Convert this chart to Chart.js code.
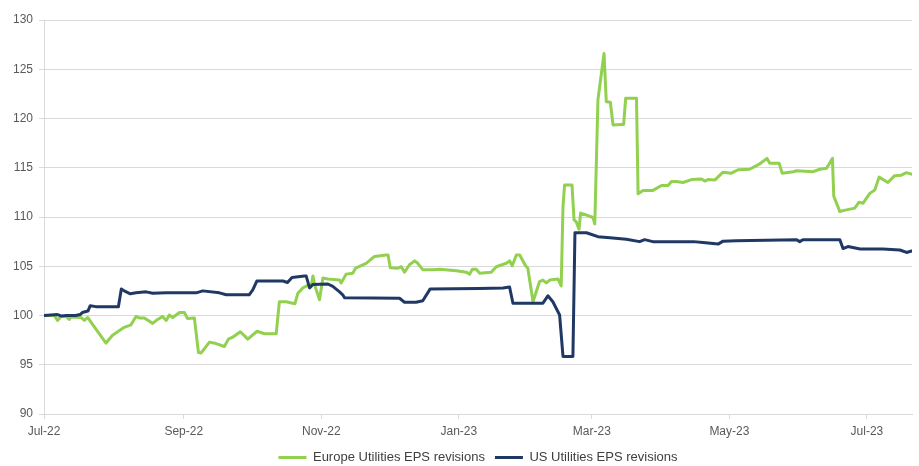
<!DOCTYPE html>
<html>
<head>
<meta charset="utf-8">
<script src="https://cdn.jsdelivr.net/npm/chart.js@4.4.0/dist/chart.umd.min.js"></script>
<style>
  body { margin: 0; background: #ffffff; }
  #wrap { width: 919px; height: 466px; position: relative; }
</style>
</head>
<body>
<div id="wrap"><canvas id="epsChart"></canvas></div>
<script>
// x values are days since 1 Jul 2022
const tickDays = [0, 62, 123, 184, 243, 304, 365];
const tickLabels = ['Jul-22', 'Sep-22', 'Nov-22', 'Jan-23', 'Mar-23', 'May-23', 'Jul-23'];

const euDays = [0, 4.6, 6, 7.5, 9.8, 11.2, 12, 16.4, 17.9, 19.4, 20.9, 27.5, 30.4, 35.6, 38.6, 40.8, 42.3, 44.5,
  48.2, 50.4, 52.6, 54.2, 55.6, 57.1, 60.1, 62.3, 63.6, 66.7, 68.5, 69.7, 73.4, 76.3, 80, 81.8, 83.7, 87.1,
  90.4, 94.5, 97.8, 103, 104.4, 107.4, 111.3, 112.6, 114.8, 117, 118.5, 119.3, 120.2, 122.2, 123.7, 125.9,
  131.1, 131.8, 134, 137, 138.2, 142.9, 146.6, 151.8, 152.6, 153.6, 157, 158.5, 159.9, 162.1, 164.4, 165.8,
  168, 172.5, 175.5, 182.9, 187.3, 188.8, 190, 191.7, 193.2, 198.4, 200.6, 205.1, 206.5, 207.7, 209.5, 211,
  213.6, 214.6, 216.9, 219.8, 221.3, 222.8, 224.3, 228, 229.4, 230.2, 230.9, 234.2, 235.1, 236.1, 237.3, 238,
  240.6, 243.5, 244.3, 245.7, 248.4, 249.4, 251.2, 252.4, 256.1, 257.1, 258, 262.8, 263.5, 265.7, 270.1,
  273.9, 276.8, 278.3, 280.5, 283.4, 287.2, 291.6, 293.1, 294.5, 297.5, 301.2, 304.9, 307.9, 313, 317.5,
  320.7, 321.9, 326.1, 327.4, 332.3, 333.8, 341.1, 344.1, 347.1, 349.7, 350.3, 353, 354.4, 359.6, 361.5,
  363.3, 366.3, 368.5, 370.4, 374.3, 377.3, 380.3, 382.5, 384.8];
const euValues = [100, 100, 99.5, 99.9, 99.9, 99.6, 99.85, 99.8, 99.5, 99.8, 99.3, 97.2, 98, 98.8, 99.05, 99.9, 99.75, 99.75,
  99.2, 99.6, 99.9, 99.5, 100.05, 99.8, 100.3, 100.3, 99.7, 99.75, 96.25, 96.2, 97.3, 97.15, 96.85, 97.6, 97.8, 98.35,
  97.6, 98.4, 98.15, 98.15, 101.4, 101.4, 101.2, 102.25, 102.8, 103.05, 103, 104, 103, 101.6, 103.8, 103.7,
  103.6, 103.3, 104.2, 104.3, 104.8, 105.3, 106, 106.15, 106.15, 104.85, 104.8, 104.95, 104.4, 105.15, 105.55, 105.3,
  104.65, 104.65, 104.7, 104.55, 104.4, 104.2, 104.7, 104.7, 104.3, 104.4, 104.95, 105.3, 105.55, 105.05, 106.15, 106.15,
  105.05, 104.8, 101.4, 103.45, 103.6, 103.3, 103.6, 103.7, 103, 111.05, 113.25, 113.25, 109.7, 109.5, 108.75, 110.4,
  110.2, 109.95, 109.3, 121.9, 126.6, 121.7, 121.65, 119.35, 119.4, 119.4, 122.05, 122.05, 112.35, 112.7, 112.7,
  113.2, 113.2, 113.6, 113.6, 113.5, 113.8, 113.85, 113.65, 113.8, 113.75, 114.55, 114.45, 114.8, 114.85, 115.4,
  115.95, 115.45, 115.45, 114.45, 114.6, 114.7, 114.6, 114.85, 114.95, 115.95, 112.1, 110.55, 110.65, 110.9, 111.5,
  111.4, 112.4, 112.75, 114.05, 113.5, 114.2, 114.25, 114.5, 114.35];

const usDays = [0, 6, 7.5, 10, 14, 16, 17, 19.5, 20.5, 23, 33, 34.3, 35.6, 38.3, 40.8, 45.3, 48.2, 54.2, 67.5, 70.4,
  77.8, 80.8, 91, 92.6, 94.4, 106, 108, 110, 115.5, 116.3, 117.8, 119.2, 125.9, 128.1, 131.1, 132.5, 133.3,
  157.7, 159.9, 165, 168, 171.3, 193, 203.6, 206.5, 208, 221.3, 223.5, 225.7, 228.7, 230.2, 234.6, 235.5,
  240.6, 245.7, 251, 258.3, 264.2, 266.4, 270, 288, 292.3, 299, 301.2, 307, 333.8, 335.2, 336.6, 353, 354.4,
  356.6, 362, 372, 379.6, 382.6, 384.8];
const usValues = [100, 100.1, 99.95, 100, 100, 100.1, 100.3, 100.45, 101, 100.9, 100.9, 102.7, 102.5, 102.2, 102.3, 102.4, 102.25, 102.3, 102.3, 102.5,
  102.3, 102.1, 102.1, 102.6, 103.5, 103.5, 103.35, 103.85, 104, 104, 102.8, 103.15, 103.2, 102.95, 102.4, 102.1, 101.8,
  101.75, 101.35, 101.35, 101.5, 102.7, 102.75, 102.8, 102.9, 101.25, 101.25, 102, 101.4, 100.05, 95.85, 95.85, 108.4,
  108.4, 108, 107.9, 107.75, 107.5, 107.7, 107.5, 107.5, 107.4, 107.25, 107.55, 107.6, 107.7, 107.5, 107.7, 107.7, 106.8,
  107, 106.75, 106.75, 106.65, 106.4, 106.55];

const toPoints = (days, vals) => days.map((d, i) => ({ x: d, y: vals[i] }));

const tickColor = '#595959';
const gridColor = '#d9d9d9';

new Chart(document.getElementById('epsChart'), {
    type: 'line',
    data: {
        datasets: [{
            label: 'Europe Utilities EPS revisions',
            data: toPoints(euDays, euValues),
            borderColor: '#92d050',
            backgroundColor: '#92d050',
            borderWidth: 3,
            order: 1,
        }, {
            label: 'US Utilities EPS revisions',
            data: toPoints(usDays, usValues),
            borderColor: '#1f3864',
            backgroundColor: '#1f3864',
            borderWidth: 3,
            order: 0,
        }]
    },
    options: {
        responsive: true,
        maintainAspectRatio: false,
        animation: false,
        elements: {
            point: { radius: 0 },
            line: { tension: 0, borderJoinStyle: 'round', borderCapStyle: 'round' }
        },
        layout: { padding: { top: 20, right: 7, left: 0, bottom: 0 } },
        scales: {
            x: {
                type: 'linear',
                min: 0,
                max: 385,
                afterBuildTicks: scale => { scale.ticks = tickDays.map(v => ({ value: v })); },
                afterFit: scale => { scale.height = 27; },
                grid: { drawOnChartArea: false, drawTicks: true, tickLength: 5, color: gridColor },
                border: { display: true, color: gridColor },
                ticks: {
                    color: tickColor,
                    font: { family: 'Liberation Sans', size: 12 },
                    padding: 5,
                    maxRotation: 0,
                    autoSkip: false,
                    callback: v => tickLabels[tickDays.indexOf(v)]
                }
            },
            y: {
                min: 90,
                max: 130,
                afterFit: scale => { scale.width = 44; },
                grid: { color: gridColor, drawTicks: true, tickLength: 5 },
                border: { display: true, color: gridColor },
                ticks: {
                    stepSize: 5,
                    color: tickColor,
                    padding: 6,
                    font: { family: 'Liberation Sans', size: 12 }
                }
            }
        },
        plugins: {
            tooltip: { enabled: false },
            legend: {
                position: 'bottom',
                fullSize: false,
                maxHeight: 25,
                labels: {
                    color: '#404040',
                    font: { family: 'Liberation Sans', size: 13 },
                    boxWidth: 28,
                    boxHeight: 3,
                    padding: 10,
                    sort: (a, b) => a.datasetIndex - b.datasetIndex,
                    generateLabels: chart => Chart.defaults.plugins.legend.labels.generateLabels(chart)
                        .map(l => ({ ...l, lineWidth: 0 }))
                }
            }
        }
    }
});
</script>
</body>
</html>
